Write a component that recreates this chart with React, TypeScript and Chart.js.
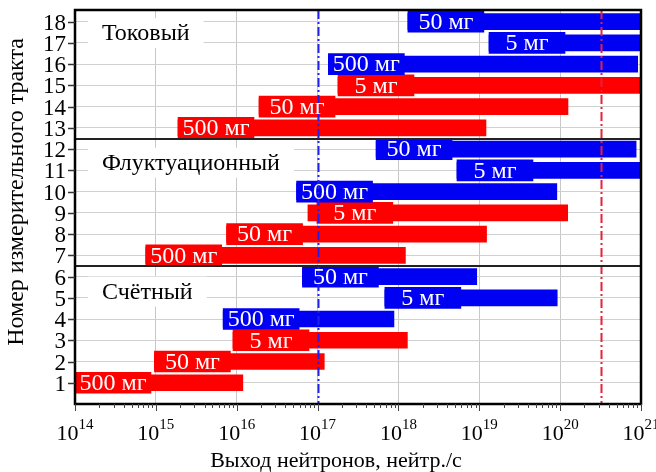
import React, { useEffect, useRef } from "react";
import { Chart, registerables } from "chart.js";

Chart.register(...registerables);

// ---- data ----
const tracks = [1, 2, 3, 4, 5, 6, 7, 8, 9, 10, 11, 12, 13, 14, 15, 16, 17, 18];
const doseLabels = [
  "500 мг", "50 мг", "5 мг",
  "500 мг", "5 мг", "50 мг",
  "500 мг", "50 мг", "5 мг",
  "500 мг", "5 мг", "50 мг",
  "500 мг", "50 мг", "5 мг",
  "500 мг", "5 мг", "50 мг",
];
const RED = "#ff0000";
const BLUE = "#0000f2";
const trackColors = [
  RED, RED, RED, BLUE, BLUE, BLUE,
  RED, RED, RED, BLUE, BLUE, BLUE,
  RED, RED, RED, BLUE, BLUE, BLUE,
];
const rangeStart = [
  1.0e14, 9.6e14, 9.0e15, 6.8e15, 6.8e17, 6.5e16,
  7.5e14, 7.5e15, 7.6e16, 5.5e16, 5.3e18, 5.3e17,
  1.88e15, 1.89e16, 1.79e17, 1.36e17, 1.32e19, 1.31e18,
];
const rangeEnd = [
  1.19e16, 1.21e17, 1.29e18, 8.8e17, 9.2e19, 9.3e18,
  1.22e18, 1.23e19, 1.24e20, 9.1e19, 1e21, 8.7e20,
  1.21e19, 1.25e20, 1e21, 9.1e20, 1e21, 1e21,
];
const labelStart = [
  1.0e14, 9.6e14, 9.0e15, 6.8e15, 6.8e17, 6.5e16,
  7.5e14, 7.5e15, 9.8e16, 5.5e16, 5.3e18, 5.3e17,
  1.88e15, 1.89e16, 1.79e17, 1.36e17, 1.32e19, 1.31e18,
];
const LABEL_BOX_FACTOR = 8.7;
const groupNames = ["Счётный", "Флуктуационный", "Токовый"];
const groupNamePos = [5.29, 11.36, 17.46];
const groupSeparators = [6.5, 12.5];
const xTickExponents = [14, 15, 16, 17, 18, 19, 20, 21];
const yTickValues = tracks;
const markerLines = [
  { value: 1e17, color: "#2020ee" },
  { value: 3.2e20, color: "#e8203c" },
];
const xTitle = "Выход нейтронов, нейтр./с";
const yTitle = "Номер измерительного тракта";

const FONT = "'Liberation Serif', 'Times New Roman', serif";

function isDecade(v: number | undefined) {
  if (!v || v <= 0) return false;
  const l = Math.log10(v);
  return Math.abs(l - Math.round(l)) < 1e-6;
}

export default function App() {
  const ref = useRef<HTMLCanvasElement>(null);

  useEffect(() => {
    const overlay = {
      id: "overlay",
      afterDatasetsDraw(chart: any) {
        const { ctx, chartArea: a, scales } = chart;
        const x = scales.x;
        const y = scales.y;
        ctx.save();

        // marker dash-dot lines
        ctx.save();
        ctx.beginPath();
        ctx.rect(a.left, a.top, a.right - a.left, a.bottom - a.top);
        ctx.clip();
        for (const m of markerLines) {
          const px = Math.round(x.getPixelForValue(m.value)) + 0.5;
          ctx.strokeStyle = m.color;
          ctx.lineWidth = 2;
          ctx.setLineDash([9, 3, 2, 3]);
          ctx.beginPath();
          ctx.moveTo(px, a.top);
          ctx.lineTo(px, a.bottom);
          ctx.stroke();
        }
        ctx.restore();

        // group separators
        ctx.strokeStyle = "#222";
        ctx.lineWidth = 2;
        for (const s of groupSeparators) {
          const py = Math.round(y.getPixelForValue(s));
          ctx.beginPath();
          ctx.moveTo(a.left, py);
          ctx.lineTo(a.right, py);
          ctx.stroke();
        }

        // dose labels in boxes
        ctx.fillStyle = "#ffffff";
        ctx.font = `24px ${FONT}`;
        ctx.textAlign = "center";
        ctx.textBaseline = "middle";
        tracks.forEach((t, i) => {
          const x0 = x.getPixelForValue(labelStart[i]);
          const x1 = x.getPixelForValue(labelStart[i] * LABEL_BOX_FACTOR);
          const py = y.getPixelForValue(t);
          ctx.fillText(doseLabels[i], (x0 + x1) / 2, py + 1);
        });

        // group names
        ctx.font = `24px ${FONT}`;
        ctx.textAlign = "left";
        groupNames.forEach((g, i) => {
          const py = y.getPixelForValue(groupNamePos[i]);
          const tx = a.left + 27;
          const w = ctx.measureText(g).width;
          ctx.fillStyle = "#ffffff";
          ctx.fillRect(tx - 14, py - 15, w + 28, 30);
          ctx.fillStyle = "#000000";
          ctx.fillText(g, tx, py + 1);
        });

        // border
        ctx.strokeStyle = "#000";
        ctx.lineWidth = 2.5;
        ctx.strokeRect(a.left, a.top, a.right - a.left, a.bottom - a.top);

        // y ticks + labels
        ctx.lineWidth = 1.5;
        ctx.strokeStyle = "#333";
        ctx.fillStyle = "#000";
        ctx.font = `23px ${FONT}`;
        ctx.textAlign = "right";
        ctx.textBaseline = "middle";
        for (const v of yTickValues) {
          const py = Math.round(y.getPixelForValue(v)) + 0.5;
          ctx.beginPath();
          ctx.moveTo(a.left - 7, py);
          ctx.lineTo(a.left, py);
          ctx.stroke();
          ctx.fillText(String(v), a.left - 9, py + 1);
        }

        // x ticks
        ctx.strokeStyle = "#444";
        ctx.lineWidth = 1;
        for (let e = xTickExponents[0]; e < xTickExponents[xTickExponents.length - 1]; e++) {
          for (let m = 1; m <= 9; m++) {
            const px = Math.round(x.getPixelForValue(m * Math.pow(10, e))) + 0.5;
            ctx.beginPath();
            ctx.moveTo(px, a.bottom);
            ctx.lineTo(px, a.bottom + (m === 1 ? 7 : 4));
            ctx.stroke();
          }
        }
        {
          const px = Math.round(x.getPixelForValue(Math.pow(10, xTickExponents[xTickExponents.length - 1]))) + 0.5;
          ctx.beginPath();
          ctx.moveTo(px, a.bottom);
          ctx.lineTo(px, a.bottom + 7);
          ctx.stroke();
        }

        // x labels 10^n
        ctx.fillStyle = "#000";
        ctx.textAlign = "left";
        ctx.textBaseline = "alphabetic";
        for (const e of xTickExponents) {
          const px = x.getPixelForValue(Math.pow(10, e));
          ctx.font = `22px ${FONT}`;
          const w1 = ctx.measureText("10").width;
          ctx.font = `15px ${FONT}`;
          const w2 = ctx.measureText(String(e)).width;
          const sx = px - (w1 + w2) / 2;
          ctx.font = `22px ${FONT}`;
          ctx.fillText("10", sx, a.bottom + 36);
          ctx.font = `15px ${FONT}`;
          ctx.fillText(String(e), sx + w1, a.bottom + 25);
        }

        // titles
        ctx.font = `22px ${FONT}`;
        ctx.textAlign = "center";
        ctx.textBaseline = "middle";
        ctx.fillText(xTitle, (a.left + a.right) / 2 - 22, a.bottom + 57);
        ctx.save();
        ctx.font = `24px ${FONT}`;
        ctx.translate(17, (a.top + a.bottom) / 2 - 15);
        ctx.rotate(-Math.PI / 2);
        ctx.fillText(yTitle, 0, 0);
        ctx.restore();

        ctx.restore();
      },
    };

    const chart = new Chart(ref.current!, {
      type: "bar",
      data: {
        datasets: [
          {
            label: "boxes",
            data: tracks.map((t, i) => ({ x: [labelStart[i], labelStart[i] * LABEL_BOX_FACTOR], y: t })) as any,
            backgroundColor: trackColors,
            barThickness: 21,
            grouped: false,
            order: 0,
            borderWidth: 0,
          } as any,
          {
            label: "ranges",
            data: tracks.map((t, i) => ({ x: [rangeStart[i], rangeEnd[i]], y: t })) as any,
            backgroundColor: trackColors,
            barThickness: 16,
            grouped: false,
            order: 1,
            borderWidth: 0,
          } as any,
        ],
      },
      options: {
        indexAxis: "y",
        animation: false,
        responsive: true,
        maintainAspectRatio: false,
        layout: { padding: { left: 75, right: 15, top: 10, bottom: 68 } },
        plugins: { legend: { display: false }, tooltip: { enabled: false } },
        scales: {
          x: {
            type: "logarithmic",
            min: 1e14,
            max: 1e21,
            ticks: { display: false },
            grid: {
              drawTicks: false,
              color: (c: any) => (isDecade(c.tick?.value) ? "#c8c8c8" : "rgba(0,0,0,0)"),
            },
            border: { display: false },
          },
          y: {
            type: "linear",
            min: 0,
            max: 18.55,
            offset: false,
            ticks: { display: false, stepSize: 1, includeBounds: false },
            grid: { drawTicks: false, offset: false, color: "#d0d0d0" },
            border: { display: false },
          },
        },
      } as any,
      plugins: [overlay],
    });
    return () => chart.destroy();
  }, []);

  return (
    <div style={{ position: "fixed", left: 0, top: 0, width: 656, height: 472, background: "#fff" }}>
      <canvas ref={ref} />
    </div>
  );
}
